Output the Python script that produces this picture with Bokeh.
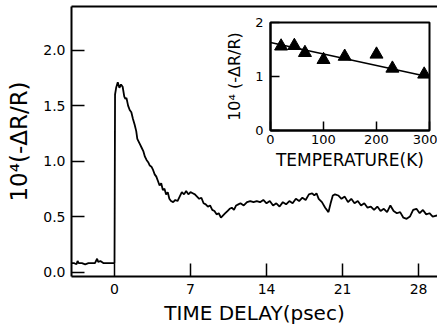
from bokeh.plotting import figure
from bokeh.models import FixedTicker, LinearAxis, Range1d, NumeralTickFormatter
from bokeh.layouts import column, row
from bokeh.embed import file_html
from bokeh.resources import INLINE

# ---- main trace: time delay (psec) vs 10^4(-dR/R)
delay_ps = [-4.0, -3.7, -3.5, -3.4, -3.3, -3.0, -2.7, -2.4, -2.1, -1.8, -1.6, -1.5, -1.3, -1.0, -0.7, -0.4, -0.1, 0.0,
            0.05, 0.15, 0.3, 0.45, 0.6, 0.75, 0.9, 1.0, 1.1, 1.25, 1.4, 1.55, 1.7, 1.85, 2.0, 2.1, 2.2, 2.35, 2.5, 2.65,
            2.8, 2.95, 3.1, 3.25, 3.4, 3.55, 3.7, 3.85, 4.0, 4.15, 4.3, 4.45, 4.6, 4.75, 4.9, 5.05, 5.2, 5.4, 5.6, 5.8,
            6.0, 6.2, 6.4, 6.6, 6.8, 7.0, 7.2, 7.4, 7.6, 7.8, 8.0, 8.2, 8.4, 8.6, 8.8, 9.0, 9.2, 9.4, 9.6, 9.8, 10.0,
            10.2, 10.4, 10.6, 10.8, 11.0, 11.2, 11.4, 11.6, 11.9, 12.2, 12.5, 12.8, 13.1, 13.4, 13.7, 14.0, 14.3, 14.6,
            14.9, 15.2, 15.5, 15.8, 16.1, 16.4, 16.7, 17.0, 17.3, 17.6, 17.9, 18.2, 18.4, 18.6, 18.8, 19.1, 19.4, 19.7,
            19.9, 20.1, 20.3, 20.6, 20.9, 21.2, 21.5, 21.8, 22.1, 22.4, 22.7, 23.0, 23.3, 23.6, 23.9, 24.2, 24.5, 24.8,
            25.1, 25.4, 25.7, 26.0, 26.3, 26.6, 26.9, 27.2, 27.5, 27.8, 28.1, 28.4, 28.7, 29.0, 29.3, 29.7]
signal = [0.08, 0.08, 0.07, 0.10, 0.08, 0.08, 0.07, 0.08, 0.08, 0.08, 0.12, 0.09, 0.10, 0.08, 0.08, 0.08, 0.08, 0.08,
          1.60, 1.66, 1.71, 1.66, 1.69, 1.67, 1.58, 1.56, 1.57, 1.50, 1.46, 1.44, 1.38, 1.33, 1.27, 1.20, 1.18, 1.15,
          1.12, 1.09, 1.04, 1.01, 0.99, 0.96, 0.95, 0.92, 0.88, 0.86, 0.82, 0.78, 0.80, 0.74, 0.75, 0.70, 0.72, 0.66,
          0.64, 0.63, 0.65, 0.64, 0.68, 0.72, 0.70, 0.73, 0.70, 0.72, 0.71, 0.70, 0.68, 0.66, 0.67, 0.62, 0.61, 0.59,
          0.60, 0.56, 0.55, 0.52, 0.53, 0.49, 0.51, 0.53, 0.55, 0.57, 0.58, 0.56, 0.60, 0.61, 0.62, 0.60, 0.63, 0.64,
          0.63, 0.64, 0.63, 0.65, 0.62, 0.64, 0.60, 0.62, 0.59, 0.63, 0.61, 0.64, 0.62, 0.66, 0.64, 0.67, 0.65, 0.70,
          0.71, 0.69, 0.71, 0.66, 0.63, 0.58, 0.54, 0.62, 0.69, 0.70, 0.69, 0.66, 0.68, 0.63, 0.66, 0.62, 0.64, 0.60,
          0.62, 0.58, 0.59, 0.56, 0.59, 0.55, 0.57, 0.54, 0.60, 0.55, 0.53, 0.54, 0.49, 0.48, 0.50, 0.56, 0.57, 0.53,
          0.56, 0.52, 0.53, 0.50, 0.51]

x_ticks = [0, 7, 14, 21, 28]
y_ticks = [0.0, 0.5, 1.0, 1.5, 2.0]

# ---- inset: temperature dependence
temp_K = [20, 45, 65, 100, 140, 200, 230, 290]
amp = [1.56, 1.57, 1.44, 1.31, 1.37, 1.41, 1.15, 1.04]
fit_T = [0, 300]
fit_amp = [1.63, 0.99]
inset_x_ticks = [0, 100, 200, 300]
inset_y_ticks = [0, 1, 2]

FONT = "DejaVu Sans"

p = figure(width=437, height=328, output_backend="svg", toolbar_location=None,
           x_range=Range1d(-3.96, 29.74), y_range=Range1d(-0.04, 2.393),
           min_border_left=71, min_border_right=0, min_border_top=6, min_border_bottom=52)
p.outline_line_color = None
p.grid.visible = False
p.background_fill_color = None
p.border_fill_color = None

p.line(delay_ps, signal, line_color="black", line_width=1.8)

for ax in (p.xaxis[0], p.yaxis[0]):
    ax.axis_line_width = 2
    ax.axis_line_color = "black"
    ax.major_tick_in = 13
    ax.major_tick_out = 0
    ax.major_tick_line_width = 1.5
    ax.minor_tick_line_color = None
    ax.major_label_text_font = FONT
    ax.major_label_text_font_size = "14px"
    ax.major_label_text_color = "black"
    ax.axis_label_text_font = FONT
    ax.axis_label_text_font_style = "normal"
    ax.axis_label_text_color = "black"

p.xaxis.ticker = FixedTicker(ticks=x_ticks)
p.yaxis.ticker = FixedTicker(ticks=y_ticks)
p.yaxis.formatter = NumeralTickFormatter(format="0.0")
p.xaxis.axis_label = "TIME DELAY(psec)"
p.yaxis.axis_label = "10\u2074(-\u0394R/R)"
p.xaxis.axis_label_text_font_size = "20px"
p.yaxis.axis_label_text_font_size = "23px"
p.xaxis.major_label_standoff = 7
p.yaxis.major_label_standoff = 6
p.xaxis.axis_label_standoff = 4
p.yaxis.axis_label_standoff = 8

top = LinearAxis(major_tick_in=0, major_tick_out=0, minor_tick_in=0, minor_tick_out=0,
                 major_label_text_font_size="0px", axis_line_width=2)
top.ticker = FixedTicker(ticks=[])
p.add_layout(top, "above")

# ---- inset figure
q = figure(width=215, height=160, output_backend="svg", toolbar_location=None,
           x_range=Range1d(0, 300), y_range=Range1d(0, 2),
           min_border_left=46, min_border_right=8, min_border_top=10, min_border_bottom=42)
q.grid.visible = False
q.outline_line_color = "black"
q.outline_line_width = 2
q.background_fill_color = None
q.border_fill_color = None
q.line(fit_T, fit_amp, line_color="black", line_width=1.6)
q.scatter(temp_K, amp, marker="triangle", size=13, fill_color="black", line_color="black")
for ax in (q.xaxis[0], q.yaxis[0]):
    ax.axis_line_width = 2
    ax.major_tick_in = 9
    ax.major_tick_out = 0
    ax.major_tick_line_width = 1.5
    ax.minor_tick_line_color = None
    ax.major_label_text_font = FONT
    ax.major_label_text_font_size = "13px"
    ax.major_label_text_color = "black"
    ax.axis_label_text_font = FONT
    ax.axis_label_text_font_style = "normal"
    ax.axis_label_text_color = "black"
q.xaxis.ticker = FixedTicker(ticks=inset_x_ticks)
q.yaxis.ticker = FixedTicker(ticks=inset_y_ticks)
q.xaxis.axis_label = "TEMPERATURE(K)"
q.yaxis.axis_label = "10\u2074 (-\u0394R/R)"
q.xaxis.axis_label_text_font_size = "17px"
q.yaxis.axis_label_text_font_size = "16px"
q.xaxis.major_label_standoff = 4
q.yaxis.major_label_standoff = 7
q.xaxis.axis_label_standoff = 3
q.yaxis.axis_label_standoff = 8

inset_box = row(q)
inset_box.margin = (-316, 0, 0, 222)

layout = column(p, inset_box, spacing=0)
open("out.html", "w").write(file_html(layout, INLINE))
